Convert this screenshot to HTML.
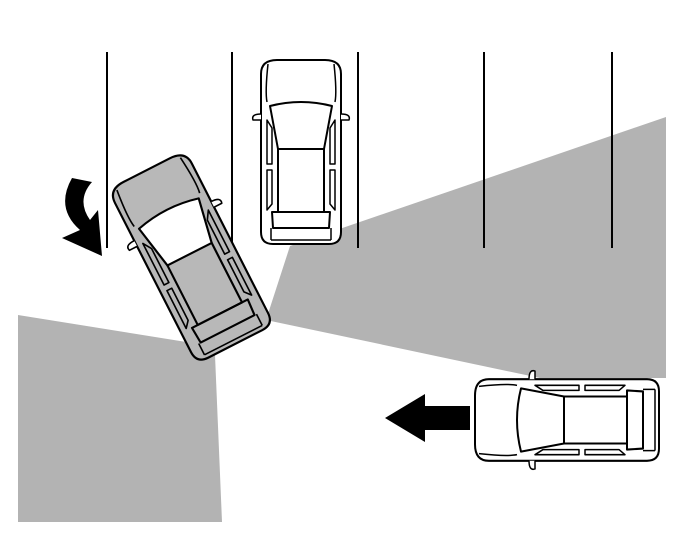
<!DOCTYPE html>
<html><head><style>html,body{margin:0;padding:0;background:#fff}svg{display:block}</style></head>
<body>
<svg width="686" height="556" viewBox="0 0 686 556" xmlns="http://www.w3.org/2000/svg">
<defs>
<g id="car" stroke="#000" stroke-width="2" stroke-linejoin="round">
  <path d="M-40,-78 Q-40,-92 -24,-92 L24,-92 Q40,-92 40,-78 L40,80 Q40,92 28,92 L-28,92 Q-40,92 -40,80 Z"/>
  <path d="M-33,-88 Q-36,-60 -34,-50 M33,-88 Q36,-60 34,-50" fill="none" stroke-width="1.5"/>
  <path d="M-31,-46 Q0,-54 31,-46 L23,-3 L-23,-3 Z" fill="#fff"/>
  <path d="M-23,-3 L-23,60 L23,60 L23,-3" fill="none"/>
  <path d="M-29,60 L29,60 L28,76 L-28,76 Z" fill="none"/>
  <path d="M-30,76 L-30,88 M30,76 L30,88 M-30,88 L30,88" fill="none" stroke-width="1.5"/>
  <path d="M-34,-32 L-29,-24 L-29,12 L-34,12 Z M-34,18 L-29,18 L-29,52 L-34,58 Z M34,-32 L29,-24 L29,12 L34,12 Z M34,18 L29,18 L29,52 L34,58 Z" fill="none" stroke-width="1.5"/>
  <path d="M-40,-38 Q-50,-38 -48,-32 L-40,-32 M40,-38 Q50,-38 48,-32 L40,-32" fill="#fff" stroke-width="1.5"/>
</g>
</defs>
<rect width="686" height="556" fill="#fff"/>
<polygon points="18,315 205,345 215,355 222,522 18,522" fill="#b3b3b3"/>
<polygon points="266,320 290,246 666,117 666,378 540,378" fill="#b3b3b3"/>
<g stroke="#000" stroke-width="2">
<line x1="107" y1="52" x2="107" y2="248"/>
<line x1="232" y1="52" x2="232" y2="248"/>
<line x1="358" y1="52" x2="358" y2="248"/>
<line x1="484" y1="52" x2="484" y2="248"/>
<line x1="612" y1="52" x2="612" y2="248"/>
</g>
<use href="#car" fill="#fff" transform="translate(301,152)"/>
<use href="#car" fill="#fff" transform="translate(567,420) rotate(-90) scale(1.02,1)"/>
<g fill="#b8b8b8"><use href="#car" transform="translate(191,257) rotate(-27) scale(1.08,1.06)"/></g>
<path d="M72,178 Q55,208 80,230 L62,238 L102,256 L98,210 L90,220 Q76,200 92,182 Z" fill="#000"/>
<path d="M470,406 L425,406 L425,394 L385,418 L425,442 L425,430 L470,430 Z" fill="#000"/>
</svg>
</body></html>
